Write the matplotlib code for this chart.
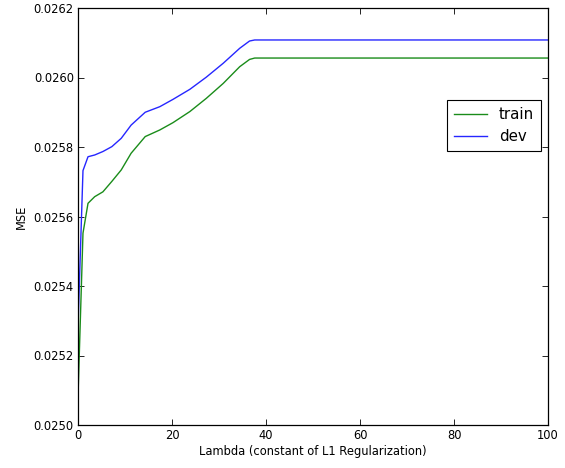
import matplotlib
matplotlib.use("Agg")
import matplotlib.pyplot as plt
from matplotlib.ticker import FormatStrFormatter, MultipleLocator

# lambda values
lam = [0.0, 1.06, 2.13, 3.55, 5.3, 7.2, 9.2, 11.3, 14.3, 17.4, 20.2, 23.8, 27.3, 30.9, 34.4, 36.5, 37.6, 100.0]
# MSE on the training set
train = [0.025081, 0.025552, 0.025638, 0.025657, 0.025671, 0.025701, 0.025734, 0.025782, 0.025830,
         0.025849, 0.025870, 0.025902, 0.025940, 0.025983, 0.026031, 0.026052, 0.026056, 0.026056]
# MSE on the dev set
dev = [0.025283, 0.025732, 0.025772, 0.025777, 0.025787, 0.025801, 0.025825, 0.025863, 0.025900,
       0.025916, 0.025937, 0.025966, 0.026001, 0.026041, 0.026084, 0.026105, 0.026108, 0.026108]

fig = plt.figure(figsize=(5.65, 4.68), dpi=100)
ax = fig.add_axes([78 / 565, 43 / 468, 470 / 565, 417 / 468])

ax.plot(lam, train, color=(0.1, 0.55, 0.1), lw=1.0, label="train")
ax.plot(lam, dev, color=(0.15, 0.15, 1.0), lw=1.0, label="dev")

ax.set_xlim(0, 100)
ax.set_ylim(0.0250, 0.0262)
ax.xaxis.set_major_locator(MultipleLocator(20))
ax.yaxis.set_major_locator(MultipleLocator(0.0002))
ax.yaxis.set_major_formatter(FormatStrFormatter("%.4f"))
ax.tick_params(direction="in", top=True, right=True, length=4, width=0.6, labelsize=8.3, pad=3)
for s in ax.spines.values():
    s.set_linewidth(0.9)

ax.set_xlabel("Lambda (constant of L1 Regularization)", fontsize=8.3, labelpad=2)
ax.set_ylabel("MSE", fontsize=8.3, labelpad=4)

leg = ax.legend(loc="upper right", bbox_to_anchor=(0.9845, 0.779), fontsize=10.8,
                fancybox=False, framealpha=1, edgecolor="black", borderaxespad=0,
                handlelength=2.2, borderpad=0.45, labelspacing=0.5)
leg.get_frame().set_linewidth(0.8)

fig.savefig("out.png", dpi=100)
